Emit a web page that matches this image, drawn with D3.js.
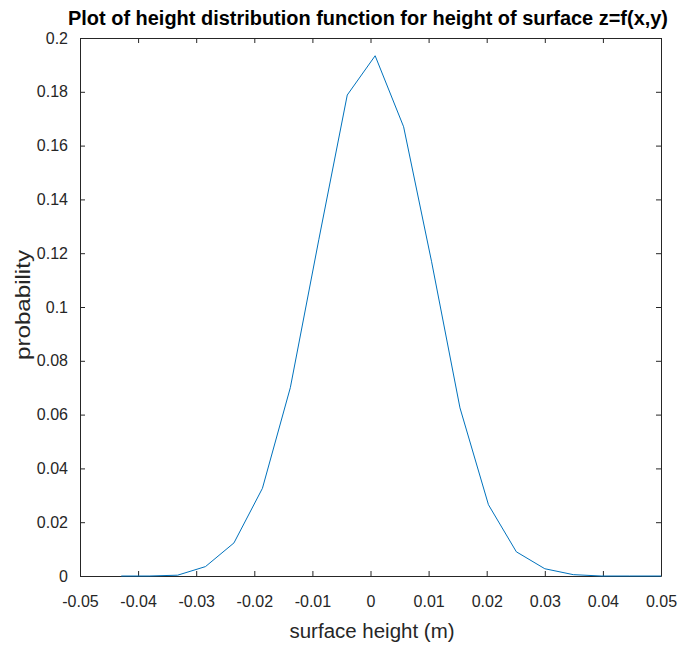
<!DOCTYPE html>
<html><head><meta charset="utf-8">
<script src="https://cdn.jsdelivr.net/npm/d3@7"></script>
<style>body{margin:0;background:#fff;} text{font-family:"Liberation Sans",Arial,sans-serif;}</style>
</head><body>
<svg id="c" width="698" height="646"></svg>
<script>
const xs = [-0.0429,-0.0381,-0.0332,-0.0284,-0.0235,-0.0186,-0.0138,-0.0089,-0.0040,0.0008,0.0057,0.0105,0.0154,0.0203,0.0251,0.0300,0.0349,0.0397,0.0446,0.0500];
const ys = [0,0,0.0003,0.0035,0.0123,0.0326,0.0700,0.1250,0.1788,0.1934,0.1670,0.1170,0.0625,0.0265,0.0090,0.0027,0.0005,0,0,0];
const xTicks = [-0.05,-0.04,-0.03,-0.02,-0.01,0,0.01,0.02,0.03,0.04,0.05];
const yTicks = [0,0.02,0.04,0.06,0.08,0.1,0.12,0.14,0.16,0.18,0.2];
const title = "Plot of height distribution function for height of surface z=f(x,y)";
const xLabel = "surface height (m)";
const yLabel = "probability";

const L=80,R=661,T=38,B=576;
const svg=d3.select("#c");
const x=d3.scaleLinear().domain([-0.05,0.05]).range([L,R]);
const y=d3.scaleLinear().domain([0,0.2]).range([B,T]);
const fmt=d=>d===0?"0":String(+d.toFixed(2));
const tc="#262626";

function styleAxis(g){g.selectAll("path").attr("stroke",tc).attr("stroke-width",1);g.selectAll("line").attr("stroke",tc);g.selectAll("text").attr("fill",tc).style("font-size","16px");}
svg.append("g").attr("transform",`translate(0,${B})`).call(d3.axisBottom(x).tickValues(xTicks).tickFormat(fmt).tickSizeInner(-5).tickSizeOuter(0).tickPadding(20)).call(styleAxis);
svg.append("g").attr("transform",`translate(0,${T})`).call(d3.axisTop(x).tickValues(xTicks).tickFormat("").tickSizeInner(-5).tickSizeOuter(0)).call(styleAxis);
svg.append("g").attr("transform",`translate(${L},0)`).call(d3.axisLeft(y).tickValues(yTicks).tickFormat(fmt).tickSizeInner(-5).tickSizeOuter(0).tickPadding(12)).call(styleAxis);
svg.append("g").attr("transform",`translate(${R},0)`).call(d3.axisRight(y).tickValues(yTicks).tickFormat("").tickSizeInner(-5).tickSizeOuter(0)).call(styleAxis);

const pts=xs.map((v,i)=>[v,ys[i]]);
svg.append("path").datum(pts).attr("fill","none").attr("stroke","#0072BD").attr("stroke-width",1)
  .attr("d",d3.line().x(d=>x(d[0])).y(d=>y(d[1])));

svg.append("text").attr("x",368).attr("y",25).attr("text-anchor","middle").attr("fill","#000").style("font-size","20px").style("font-weight","bold")
  .attr("textLength",600).attr("lengthAdjust","spacingAndGlyphs").text(title);
svg.append("text").attr("x",372).attr("y",638).attr("text-anchor","middle").attr("fill",tc).style("font-size","20px")
  .attr("textLength",165).attr("lengthAdjust","spacingAndGlyphs").text(xLabel);
svg.append("text").attr("transform",`translate(30,305) rotate(-90)`).attr("text-anchor","middle").attr("fill",tc).style("font-size","20px")
  .attr("textLength",110).attr("lengthAdjust","spacingAndGlyphs").text(yLabel);
</script>
</body></html>
